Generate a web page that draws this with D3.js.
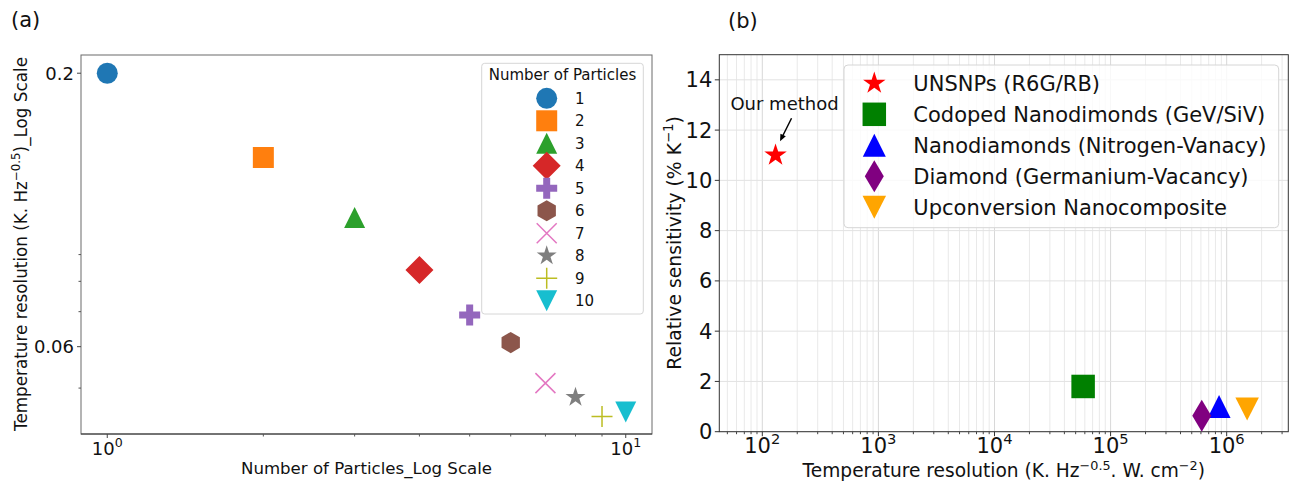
<!DOCTYPE html>
<html><head><meta charset="utf-8">
<script src="https://cdn.jsdelivr.net/npm/d3@7"></script>
<style>body{margin:0;background:#fff;} svg{display:block;} text{font-family:"DejaVu Sans",sans-serif;fill:#111;}</style>
</head><body><svg id="c" width="1297" height="486"></svg>
<script>
// ---------- Panel (a) data ----------
const particleCounts = [1, 2, 3, 4, 5, 6, 7, 8, 9, 10];
const tempResolutionA = [0.200, 0.138, 0.106, 0.0841, 0.069, 0.0611, 0.0511, 0.048, 0.0441, 0.045];
const particleMarkers = ["circle", "square", "triangleUp", "diamond", "plusFilled", "hexagon", "xThin", "star", "plusThin", "triangleDown"];
const particleColors = ["#1f77b4", "#ff7f0e", "#2ca02c", "#d62728", "#9467bd", "#8c564b", "#e377c2", "#7f7f7f", "#bcbd22", "#17becf"];
const yTickLabelsA = [0.2, 0.06];
const yMinorTicksA = [0.05, 0.07, 0.08, 0.09];
const xTicksA = [1, 10];
const xMinorTicksA = [2, 3, 4, 5, 6, 7, 8, 9];

// ---------- Panel (b) data ----------
const methods = ["UNSNPs (R6G/RB)", "Codoped Nanodimonds (GeV/SiV)", "Nanodiamonds (Nitrogen-Vanacy)", "Diamond (Germanium-Vacancy)", "Upconversion Nanocomposite"];
const tempResolutionB = [130, 58000, 860000, 610000, 1500000];
const relSensitivity = [11.0, 1.8, 1.0, 0.63, 0.9];
const methodMarkers = ["star", "square", "triangleUp", "thinDiamond", "triangleDown"];
const methodColors = ["#ff0000", "#008000", "#0000ff", "#800080", "#ffa500"];
const yTicksB = [0, 2, 4, 6, 8, 10, 12, 14];
const xTicksB = [100, 1000, 10000, 100000, 1000000];

const svg = d3.select("#c");

function markerPath(type, w, h) {
  const a = w / 2, b = h / 2;
  switch (type) {
    case "circle": return `M${a},0A${a},${a} 0 1 1 ${-a},0A${a},${a} 0 1 1 ${a},0Z`;
    case "square": return `M${-a},${-b}H${a}V${b}H${-a}Z`;
    case "triangleUp": return `M0,${-b}L${a},${b}L${-a},${b}Z`;
    case "triangleDown": return `M0,${b}L${a},${-b}L${-a},${-b}Z`;
    case "diamond": case "thinDiamond": return `M0,${-b}L${a},0L0,${b}L${-a},0Z`;
    case "plusFilled": { const t = w / 6; return `M${-t},${-a}H${t}V${-t}H${a}V${t}H${t}V${a}H${-t}V${t}H${-a}V${-t}H${-t}Z`; }
    case "hexagon": { let p = ""; for (let k = 0; k < 6; k++) { const ang = -Math.PI / 2 + k * Math.PI / 3; p += (k ? "L" : "M") + (b * Math.cos(ang)).toFixed(2) + "," + (b * Math.sin(ang)).toFixed(2); } return p + "Z"; }
    case "star": { let p = ""; const R = a, r = a * 0.381966; for (let k = 0; k < 10; k++) { const rr = k % 2 ? r : R; const ang = -Math.PI / 2 + k * Math.PI / 5; p += (k ? "L" : "M") + (rr * Math.cos(ang)).toFixed(2) + "," + (rr * Math.sin(ang)).toFixed(2); } return p + "Z"; }
    case "xThin": return `M${-a},${-b}L${a},${b}M${-a},${b}L${a},${-b}`;
    case "plusThin": return `M${-a},0H${a}M0,${-b}V${b}`;
  }
}
const thinTypes = new Set(["xThin", "plusThin"]);
function drawMarker(g, type, color, w, h, x, y) {
  const p = g.append("path").attr("d", markerPath(type, w, h)).attr("transform", `translate(${x},${y})`);
  if (thinTypes.has(type)) p.attr("fill", "none").attr("stroke", color).attr("stroke-width", 1.5);
  else p.attr("fill", color);
}
const sizeA = {circle: [21, 21], square: [21, 21], triangleUp: [21, 21], diamond: [28, 28], plusFilled: [21, 21], hexagon: [18.4, 21.2], xThin: [20, 20], star: [21, 21], plusThin: [21, 21], triangleDown: [21, 21]};
const sizeB = {star: [23.6, 23.6], square: [23.5, 23.5], triangleUp: [23, 23], thinDiamond: [19, 32], triangleDown: [23.5, 23]};

// superscript helper
function addPow(sel, base, exp, fs) {
  sel.append("tspan").text(base);
  sel.append("tspan").attr("dy", -0.42 * fs).attr("font-size", fs * 0.7).text(exp);
}

// ================= Panel (a) =================
const A = {l: 81, r: 652, t: 55, b: 434};
const xA = d3.scaleLog().domain([0.8899, 11.237]).range([A.l, A.r]);
const yA = d3.scaleLog().domain([0.04085, 0.2167]).range([A.b, A.t]);
const gA = svg.append("g");

// spines
gA.append("rect").attr("x", A.l).attr("y", A.t).attr("width", A.r - A.l).attr("height", A.b - A.t).attr("fill", "none").attr("stroke", "#6a6a6a").attr("stroke-width", 1);
gA.append("line").attr("x1", A.l).attr("x2", A.r).attr("y1", A.b).attr("y2", A.b).attr("stroke", "#333");

// y ticks
yTickLabelsA.forEach(v => {
  gA.append("line").attr("x1", A.l - 4).attr("x2", A.l).attr("y1", yA(v)).attr("y2", yA(v)).attr("stroke", "#444");
  gA.append("text").attr("x", A.l - 7).attr("y", yA(v)).attr("dy", "0.36em").attr("text-anchor", "end").attr("font-size", 18).text(v);
});
yMinorTicksA.forEach(v => {
  gA.append("line").attr("x1", A.l - 2.5).attr("x2", A.l).attr("y1", yA(v)).attr("y2", yA(v)).attr("stroke", "#555");
});
// x ticks
xTicksA.forEach((v, i) => {
  gA.append("line").attr("x1", xA(v)).attr("x2", xA(v)).attr("y1", A.b).attr("y2", A.b + 4).attr("stroke", "#444");
  const t = gA.append("text").attr("x", xA(v)).attr("y", 455).attr("text-anchor", "middle").attr("font-size", 18);
  addPow(t, "10", String(i), 18);
});
xMinorTicksA.forEach(v => {
  gA.append("line").attr("x1", xA(v)).attr("x2", xA(v)).attr("y1", A.b).attr("y2", A.b + 2.5).attr("stroke", "#555");
});

// axis labels
gA.append("text").attr("x", (A.l + A.r) / 2).attr("y", 474).attr("text-anchor", "middle").attr("font-size", 16.6).text("Number of Particles_Log Scale");
{
  const t = gA.append("text").attr("transform", "translate(27,244) rotate(-90)").attr("text-anchor", "middle").attr("font-size", 16.8);
  t.append("tspan").text("Temperature resolution (K. Hz");
  t.append("tspan").attr("dy", -7).attr("font-size", 11.8).text("\u22120.5");
  t.append("tspan").attr("dy", 7).text(")_Log Scale");
}
gA.append("text").attr("x", 11).attr("y", 27).attr("font-family", "Lato, 'Liberation Sans', sans-serif").attr("font-size", 21).text("(a)");

// points
particleCounts.forEach((n, i) => {
  const [w, h] = sizeA[particleMarkers[i]];
  drawMarker(gA, particleMarkers[i], particleColors[i], w, h, xA(n), yA(tempResolutionA[i]));
});

// legend (a)
{
  const L = gA.append("g");
  L.append("rect").attr("x", 481.7).attr("y", 63.3).attr("width", 161.6).attr("height", 250.7).attr("rx", 3)
    .attr("fill", "#fff").attr("fill-opacity", 0.8).attr("stroke", "#d6d6d6");
  L.append("text").attr("x", 562.5).attr("y", 75).attr("dy", "0.36em").attr("text-anchor", "middle").attr("font-size", 15).text("Number of Particles");
  particleCounts.forEach((n, i) => {
    const y = 98.3 + i * 22.49;
    const [w, h] = sizeA[particleMarkers[i]];
    drawMarker(L, particleMarkers[i], particleColors[i], w, h, 546.7, y);
    L.append("text").attr("x", 575).attr("y", y).attr("dy", "0.36em").attr("font-size", 15).text(n);
  });
}

// ================= Panel (b) =================
const B = {l: 719.3, r: 1288.3, t: 54.7, b: 431.7};
const xB = d3.scaleLog().domain([42.62, 3.394e6]).range([B.l, B.r]);
const yB = d3.scaleLinear().domain([0, 15]).range([B.b, B.t]);
const gB = svg.append("g");

// grid
const minorB = [];
for (let e = 1; e <= 6; e++) for (let k = 2; k <= 9; k++) { const v = k * Math.pow(10, e); if (v > 42.62 && v < 3.394e6) minorB.push(v); }
minorB.forEach(v => gB.append("line").attr("x1", xB(v)).attr("x2", xB(v)).attr("y1", B.t).attr("y2", B.b).attr("stroke", "#e9e9e9").attr("stroke-width", 1));
xTicksB.forEach(v => gB.append("line").attr("x1", xB(v)).attr("x2", xB(v)).attr("y1", B.t).attr("y2", B.b).attr("stroke", "#d8d8d8").attr("stroke-width", 1));
yTicksB.forEach(v => gB.append("line").attr("x1", B.l).attr("x2", B.r).attr("y1", yB(v)).attr("y2", yB(v)).attr("stroke", "#e2e2e2").attr("stroke-width", 1));

// spines
gB.append("rect").attr("x", B.l).attr("y", B.t).attr("width", B.r - B.l).attr("height", B.b - B.t).attr("fill", "none").attr("stroke", "#333").attr("stroke-width", 1);

// ticks
yTicksB.forEach(v => {
  gB.append("line").attr("x1", B.l - 4.5).attr("x2", B.l).attr("y1", yB(v)).attr("y2", yB(v)).attr("stroke", "#333");
  gB.append("text").attr("x", B.l - 7).attr("y", yB(v)).attr("dy", "0.36em").attr("text-anchor", "end").attr("font-size", 21).text(v);
});
xTicksB.forEach(v => {
  gB.append("line").attr("x1", xB(v)).attr("x2", xB(v)).attr("y1", B.b).attr("y2", B.b + 4.5).attr("stroke", "#333");
  const t = gB.append("text").attr("x", xB(v)).attr("y", 453).attr("text-anchor", "middle").attr("font-size", 21);
  addPow(t, "10", String(Math.round(Math.log10(v))), 21);
});
minorB.forEach(v => gB.append("line").attr("x1", xB(v)).attr("x2", xB(v)).attr("y1", B.b).attr("y2", B.b + 2.5).attr("stroke", "#444"));

// axis labels
{
  const t = gB.append("text").attr("x", (B.l + B.r) / 2).attr("y", 477).attr("text-anchor", "middle").attr("font-size", 18.6);
  t.append("tspan").text("Temperature resolution (K. Hz");
  t.append("tspan").attr("dy", -7).attr("font-size", 12.8).text("\u22120.5");
  t.append("tspan").attr("dy", 7).text(". W. cm");
  t.append("tspan").attr("dy", -7).attr("font-size", 12.8).text("\u22122");
  t.append("tspan").attr("dy", 7).text(")");
}
{
  const t = gB.append("text").attr("transform", "translate(681,243) rotate(-90)").attr("text-anchor", "middle").attr("font-size", 18.8);
  t.append("tspan").text("Relative sensitivity (% K");
  t.append("tspan").attr("dy", -8).attr("font-size", 13.2).text("\u22121");
  t.append("tspan").attr("dy", 8).text(")");
}
gB.append("text").attr("x", 728).attr("y", 28).attr("font-family", "Lato, 'Liberation Sans', sans-serif").attr("font-size", 21).text("(b)");

// points
methods.forEach((m, i) => {
  const [w, h] = sizeB[methodMarkers[i]];
  drawMarker(gB, methodMarkers[i], methodColors[i], w, h, xB(tempResolutionB[i]), yB(relSensitivity[i]));
});

// annotation
{
  const sx = xB(tempResolutionB[0]), sy = yB(relSensitivity[0]);
  gB.append("text").attr("x", sx + 9).attr("y", 110).attr("text-anchor", "middle").attr("font-family", "Lato, 'Liberation Sans', sans-serif").attr("font-size", 18).text("Our method");
  const x1 = sx + 16, y1 = sy - 37, x2 = sx + 4.5, y2 = sy - 14;
  gB.append("line").attr("x1", x1).attr("y1", y1).attr("x2", x2 + 2).attr("y2", y2 - 4).attr("stroke", "#000").attr("stroke-width", 1.5);
  const ang = Math.atan2(y2 - y1, x2 - x1), hl = 7, hw = 3;
  const bx = x2 - hl * Math.cos(ang), by = y2 - hl * Math.sin(ang);
  gB.append("path").attr("d", `M${x2},${y2}L${bx + hw * Math.sin(ang)},${by - hw * Math.cos(ang)}L${bx - hw * Math.sin(ang)},${by + hw * Math.cos(ang)}Z`).attr("fill", "#000");
}

// legend (b)
{
  const L = gB.append("g");
  L.append("rect").attr("x", 844).attr("y", 65).attr("width", 434.7).attr("height", 162.7).attr("rx", 4)
    .attr("fill", "#fff").attr("fill-opacity", 0.8).attr("stroke", "#d6d6d6");
  methods.forEach((m, i) => {
    const y = 83.3 + i * 31;
    const [w, h] = sizeB[methodMarkers[i]];
    drawMarker(L, methodMarkers[i], methodColors[i], w, h, 874.3, y);
    L.append("text").attr("x", 913.3).attr("y", y).attr("dy", "0.36em").attr("font-size", 21).text(m);
  });
}
</script></body></html>
